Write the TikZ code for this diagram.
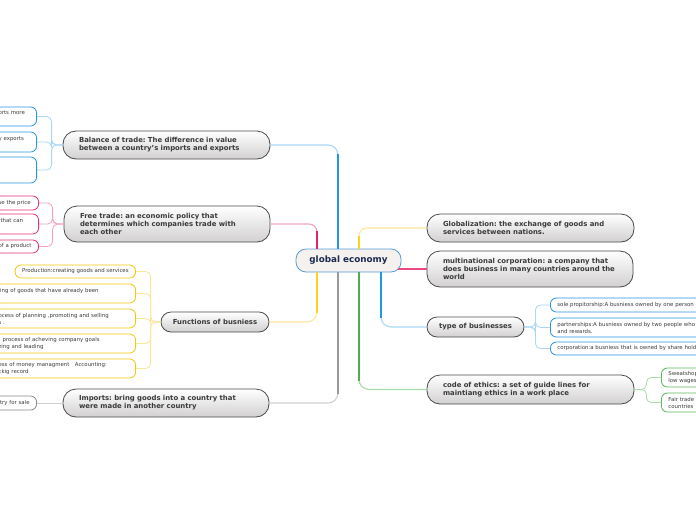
\documentclass[tikz,border=0pt]{standalone}
\usepackage{fontspec}
\setmainfont{DejaVu Sans}
\usetikzlibrary{calc}
\frenchspacing
\definecolor{sblue}{HTML}{1A9BE8}
\definecolor{lblue}{HTML}{A9D7F5}
\definecolor{bblue}{HTML}{2B95E0}
\definecolor{spink}{HTML}{E5236B}
\definecolor{lpink}{HTML}{F3A2C2}
\definecolor{bpink}{HTML}{E4317A}
\definecolor{syellow}{HTML}{FFD21F}
\definecolor{lyellow}{HTML}{FDE79B}
\definecolor{byellow}{HTML}{F2C80F}
\definecolor{sgrey}{HTML}{9A9A9A}
\definecolor{lgrey}{HTML}{D0D0D0}
\definecolor{bgrey}{HTML}{8A8A8A}
\definecolor{sgreen}{HTML}{4CAE4C}
\definecolor{lgreen}{HTML}{A9DBA9}
\definecolor{bgreen}{HTML}{5CB85C}
\definecolor{mainborder}{HTML}{4A4A4A}
\definecolor{maingray}{HTML}{D2D0D0}
\definecolor{maintext}{HTML}{3A3A3A}
\definecolor{leaftext}{HTML}{3C3C3C}
\definecolor{centfill}{HTML}{F4F1EE}
\definecolor{centborder}{HTML}{5B9BD5}
\definecolor{centtext}{HTML}{1B2A4E}
\begin{document}
\begin{tikzpicture}[x=1pt,y=-1pt,
  mainnode/.style={draw=mainborder, line width=0.8pt, rounded corners=13pt,
    top color=white, bottom color=maingray,
    font=\bfseries\fontsize{6.9}{8}\selectfont, text=maintext,
    align=left, inner xsep=16pt, inner ysep=0pt},
  leaf/.style={draw, fill=white, line width=0.8pt, rounded corners=6pt,
    font=\fontsize{5.4}{7}\selectfont, text=leaftext, align=left,
    inner xsep=4pt, inner ysep=1pt},
  leafL/.style={leaf, anchor=east},
  leafR/.style={leaf, anchor=west, inner xsep=7pt, text width=200pt},
  lconn/.style={line width=0.8pt, rounded corners=5pt},
  sconn/.style={line width=2.4pt},
  mconn/.style={line width=1.1pt, rounded corners=10pt}
]
\useasboundingbox (0,0) rectangle (696,520);
\clip (0,0) rectangle (696,520);
\fill[white] (0,0) rectangle (696,520);

% central node
\node[draw=centborder, fill=centfill, line width=0.8pt, rounded corners=10pt,
  minimum width=105pt, minimum height=23pt, inner sep=0pt,
  font=\bfseries\fontsize{8.8}{10}\selectfont, text=centtext] (ge) at (348.5,260.5) {global economy};

% main nodes
\node[mainnode, text width=175pt, minimum height=28pt] (bal) at (166.5,145) {Balance of trade: The difference in value\\between a country's imports and exports};
\node[mainnode, text width=174pt, minimum height=36pt] (ft) at (167,224) {Free trade: an economic policy that\\determines which companies trade with\\each other};
\node[mainnode, align=center, inner xsep=0pt, minimum width=108pt, minimum height=20pt, rounded corners=10pt] (fun) at (215,322) {Functions of busniess};
\node[mainnode, text width=174pt, minimum height=28pt] (imp) at (166,403) {Imports: bring goods into a country that\\were made in another country};
\node[mainnode, text width=175pt, minimum height=28pt] (glob) at (530.5,228) {Globalization: the exchange of goods and\\services between nations.};
\node[mainnode, text width=174pt, minimum height=36pt] (mn) at (530,269) {multinational corporation: a company that\\does business in many countries around the\\world};
\node[mainnode, align=center, inner xsep=0pt, minimum width=97pt, minimum height=20pt, rounded corners=10pt] (typ) at (475.5,327) {type of businesses};
\node[mainnode, text width=175pt, minimum height=29pt] (code) at (530.5,389.5) {code of ethics: a set of guide lines for\\maintiang ethics in a work place};

% leaves: balance of trade
\node[leafL, draw=bblue, text width=34pt, minimum height=19pt] (b1) at (37,116.5) {orts more\\\mbox{}};
\node[leafL, draw=bblue, text width=34pt, minimum height=20pt] (b2) at (37,142) {y exports\\\mbox{}};
\node[leafL, draw=bblue, text width=34pt, minimum height=26pt] (b3) at (37,170) {};
% leaves: free trade
\node[leafL, draw=bpink, text width=36pt, minimum height=14pt] (f1) at (39,203) {se the price};
\node[leafL, draw=bpink, text width=36pt, minimum height=20pt] (f2) at (39,224) {\hspace*{2pt}that can\\\mbox{}};
\node[leafL, draw=bpink, text width=36pt, minimum height=13pt] (f3) at (39,246.5) {of a product};
% leaves: functions
\node[leafL, draw=byellow, inner xsep=7pt, minimum height=13pt] (fn1) at (136,271.5) {Production:creating goods and services};
\node[leafL, draw=byellow, text width=133pt, minimum height=19pt] (fn2) at (136,293.5) {ling of goods that have already been\\\mbox{}};
\node[leafL, draw=byellow, text width=133pt, minimum height=19pt] (fn3) at (136,318.5) {ocess of planning ,promoting and selling\\s .};
\node[leafL, draw=byellow, text width=133pt, minimum height=19pt] (fn4) at (136,343.5) {\hspace*{4pt}process of acheving company goals\\zing and leading};
\node[leafL, draw=byellow, text width=133pt, minimum height=19pt] (fn5) at (136,368.5) {ess of money managment\ \ \ Accounting:\\ckig record};
% leaf: imports
\node[leafL, draw=bgrey, text width=34pt, minimum height=14pt] (i1) at (37,403) {\hspace*{1.5pt}try for sale};
% leaves: type of businesses
\node[leafR, draw=bblue, minimum height=14pt] (t1) at (550,305) {sole propitorship:A busniess owned by one person};
\node[leafR, draw=bblue, minimum height=19pt] (t2) at (550,327.5) {partnerships:A busniess owned by two people who\\and rewards.};
\node[leafR, draw=bblue, minimum height=13pt] (t3) at (550,348.5) {corporation:a busniess that is owned by share holders};
% leaves: code of ethics
\node[leafR, draw=bgreen, minimum height=19pt] (c1) at (661,377.5) {Sweatshops\\low wages};
\node[leafR, draw=bgreen, minimum height=19pt] (c2) at (661,402.5) {Fair trade\\countries};

% anchor points on central node
\coordinate (nL1) at ([xshift=-10.5pt]ge.north);
\coordinate (nL2) at ([xshift=-31.5pt]ge.north);
\coordinate (sL1) at ([xshift=-10.5pt]ge.south);
\coordinate (sL2) at ([xshift=-31.5pt]ge.south);
\coordinate (nR1) at ([xshift=10.5pt]ge.north);
\coordinate (sR1) at ([xshift=10.5pt]ge.south);
\coordinate (sR2) at ([xshift=32.5pt]ge.south);

% main connectors (light full path + strong vertical part)
\draw[mconn, lblue] (nL1) |- (bal.east);
\draw[sconn, sblue, shorten >=9pt] (nL1) -- (nL1 |- bal.east);
\draw[mconn, lpink, rounded corners=8pt] (nL2) |- (ft.east);
\draw[sconn, spink, shorten >=7pt] (nL2) -- (nL2 |- ft.east);
\draw[mconn, lyellow] (sL2) |- (fun.east);
\draw[sconn, syellow, shorten >=9pt] (sL2) -- (sL2 |- fun.east);
\draw[mconn, lgrey] (sL1) |- (imp.east);
\draw[sconn, sgrey, shorten >=9pt] (sL1) -- (sL1 |- imp.east);
\draw[mconn, lyellow, rounded corners=8pt] (nR1) |- (glob.west);
\draw[sconn, syellow, shorten >=8pt] (nR1) -- (nR1 |- glob.west);
\draw[mconn, spink!70!lpink] ([xshift=-3pt]mn.west -| ge.east) -- (mn.west);
\draw[mconn, lblue] (sR2) |- (typ.west);
\draw[sconn, sblue, shorten >=9pt] (sR2) -- (sR2 |- typ.west);
\draw[mconn, lgreen] (sR1) |- (code.west);
\draw[sconn, sgreen, shorten >=9pt] (sR1) -- (sR1 |- code.west);

% leaf connectors
\foreach \l in {b1,b2,b3}{\draw[lconn, lblue] (bal.west) -- ++(-11,0) |- (\l.east);}
\foreach \l in {f1,f2,f3}{\draw[lconn, lpink] (ft.west) -- ++(-11,0) |- (\l.east);}
\foreach \l in {fn1,fn2,fn3,fn4,fn5}{\draw[lconn, lyellow] (fun.west) -- ++(-10,0) |- (\l.east);}
\draw[lconn, lgrey] (imp.west) -- (i1.east);
\foreach \l in {t1,t2,t3}{\draw[lconn, lblue] (typ.east) -- ++(11,0) |- (\l.west);}
\foreach \l in {c1,c2}{\draw[lconn, lgreen] (code.east) -- ++(12,0) |- (\l.west);}
\end{tikzpicture}
\end{document}
